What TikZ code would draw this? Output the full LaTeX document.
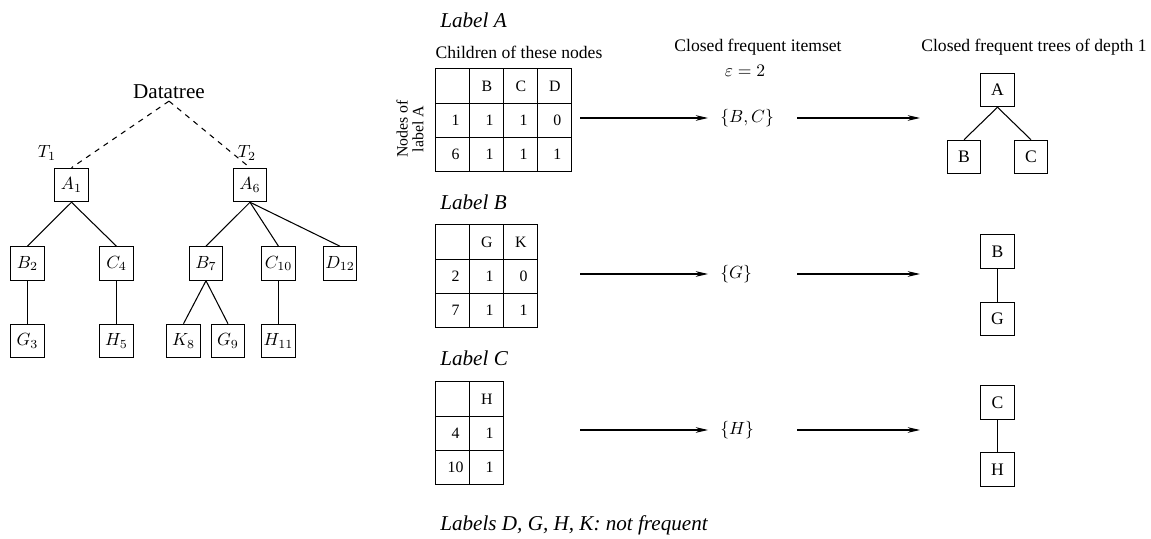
\documentclass[tikz,border=0pt]{standalone}
\usepackage{fontspec}
\setmainfont{Liberation Serif}
\usetikzlibrary{matrix,arrows.meta}
\newcommand{\dg}[1]{\hspace*{3pt}#1}
\begin{document}
\begin{tikzpicture}[x=0.568pt,y=-0.568pt,
  box/.style={draw,line width=0.6pt,minimum size=19pt,inner sep=1pt},
  edge/.style={line width=0.6pt},
  arr/.style={line width=0.6pt,-{Stealth[length=7pt,width=3.2pt,inset=2.2pt]}},
  cell/.style={draw,line width=0.6pt,minimum width=19.3pt,minimum height=19.5pt,inner sep=0pt,font=\small,anchor=center},
  tab/.style={matrix of nodes,nodes in empty cells,inner sep=0pt,column sep=-0.6pt,row sep=-0.6pt,nodes={cell},anchor=north west},
  lbl/.style={anchor=west,inner sep=0pt,font=\large\itshape},
  setn/.style={anchor=west,inner sep=0pt},
  head/.style={inner sep=0pt}
]
\useasboundingbox (0,0) rectangle (1151,539);

% ---------------- left data tree ----------------
\node[font=\large,inner sep=1pt] (dt) at (169,92) {Datatree};
\node[box] (A1) at (71.5,185) {$A_1$};
\node[box] (A6) at (250,185) {$A_6$};
\node[box] (B2) at (27.5,263.5) {$B_2$};
\node[box] (C4) at (116.5,263.5) {$C_4$};
\node[box] (B7) at (206,263.5) {$B_7$};
\node[box] (C10) at (278.5,263.5) {$C_{10}$};
\node[box] (D12) at (340,263.5) {$D_{12}$};
\node[box] (G3) at (27.5,341) {$G_3$};
\node[box] (H5) at (116.5,341) {$H_5$};
\node[box] (K8) at (183.5,341) {$K_8$};
\node[box] (G9) at (228,341) {$G_9$};
\node[box] (H11) at (278.5,341) {$H_{11}$};
\node (T1) at (47,153) {$T_1$};
\node (T2) at (247,153) {$T_2$};

\draw[edge,dashed] (dt.south) -- (A1.north);
\draw[edge,dashed] (dt.south) -- (A6.north);
\draw[edge] (A1.south) -- (B2.north);
\draw[edge] (A1.south) -- (C4.north);
\draw[edge] (A6.south) -- (B7.north);
\draw[edge] (A6.south) -- (C10.north);
\draw[edge] (A6.south) -- (D12.north);
\draw[edge] (B2.south) -- (G3.north);
\draw[edge] (C4.south) -- (H5.north);
\draw[edge] (B7.south) -- (K8.north);
\draw[edge] (B7.south) -- (G9.north);
\draw[edge] (C10.south) -- (H11.north);

% ---------------- headings ----------------
\node[head] (hch) at (519,52) {Children of these nodes};
\node[head] (hcf) at (758,47) {Closed frequent itemset};
\node[head] (heps) at (745,71) {$\varepsilon=2$};
\node[head] (htr) at (1034,47) {Closed frequent trees of depth 1};

% ---------------- label A ----------------
\node[lbl] (lA) at (440,20) {Label A};
\matrix[tab] (tA) at (435,68) {
   & B & C & D \\
  \dg{1} & \dg{1} & \dg{1} & \dg{0} \\
  \dg{6} & \dg{1} & \dg{1} & \dg{1} \\
};
\node[rotate=90,font=\fontsize{9pt}{9pt}\selectfont,align=center,inner sep=0pt] (nA) at (410,129) {Nodes of\\label A};
\node[setn] (sA) at (720,118) {$\{B,C\}$};
\coordinate (a1s) at (580,118);
\coordinate (a2s) at (797,118);
\coordinate (a2e) at (920,118);
\draw[arr,shorten >=6.8pt] (a1s) -- (sA);
\draw[arr] (a2s) -- (a2e);
\node[box] (rA) at (997.5,90) {A};
\node[box] (rB) at (964,157) {B};
\node[box] (rC) at (1031,157) {C};
\draw[edge] (rA.south) -- (rB.north);
\draw[edge] (rA.south) -- (rC.north);

% ---------------- label B ----------------
\node[lbl] (lB) at (440,202) {Label B};
\matrix[tab] (tB) at (435,224) {
   & G & K \\
  \dg{2} & \dg{1} & \dg{0} \\
  \dg{7} & \dg{1} & \dg{1} \\
};
\node[setn] (sB) at (720,274) {$\{G\}$};
\coordinate (b1s) at (580,274);
\coordinate (b2s) at (797,274);
\coordinate (b2e) at (920,274);
\draw[arr,shorten >=6.8pt] (b1s) -- (sB);
\draw[arr] (b2s) -- (b2e);
\node[box] (qB) at (997.5,251.5) {B};
\node[box] (qG) at (997.5,319) {G};
\draw[edge] (qB.south) -- (qG.north);

% ---------------- label C ----------------
\node[lbl] (lC) at (440,358) {Label C};
\matrix[tab] (tC) at (435,381) {
   & H \\
  \dg{4} & \dg{1} \\
  \dg{10} & \dg{1} \\
};
\node[setn] (sC) at (720,430) {$\{H\}$};
\coordinate (c1s) at (580,430);
\coordinate (c2s) at (797,430);
\coordinate (c2e) at (920,430);
\draw[arr,shorten >=6.8pt] (c1s) -- (sC);
\draw[arr] (c2s) -- (c2e);
\node[box] (pC) at (997.5,402.5) {C};
\node[box] (pH) at (997.5,469.5) {H};
\draw[edge] (pC.south) -- (pH.north);

\node[lbl] (lN) at (440,525) {Labels D, G, H, K: not frequent};
\end{tikzpicture}
\end{document}
